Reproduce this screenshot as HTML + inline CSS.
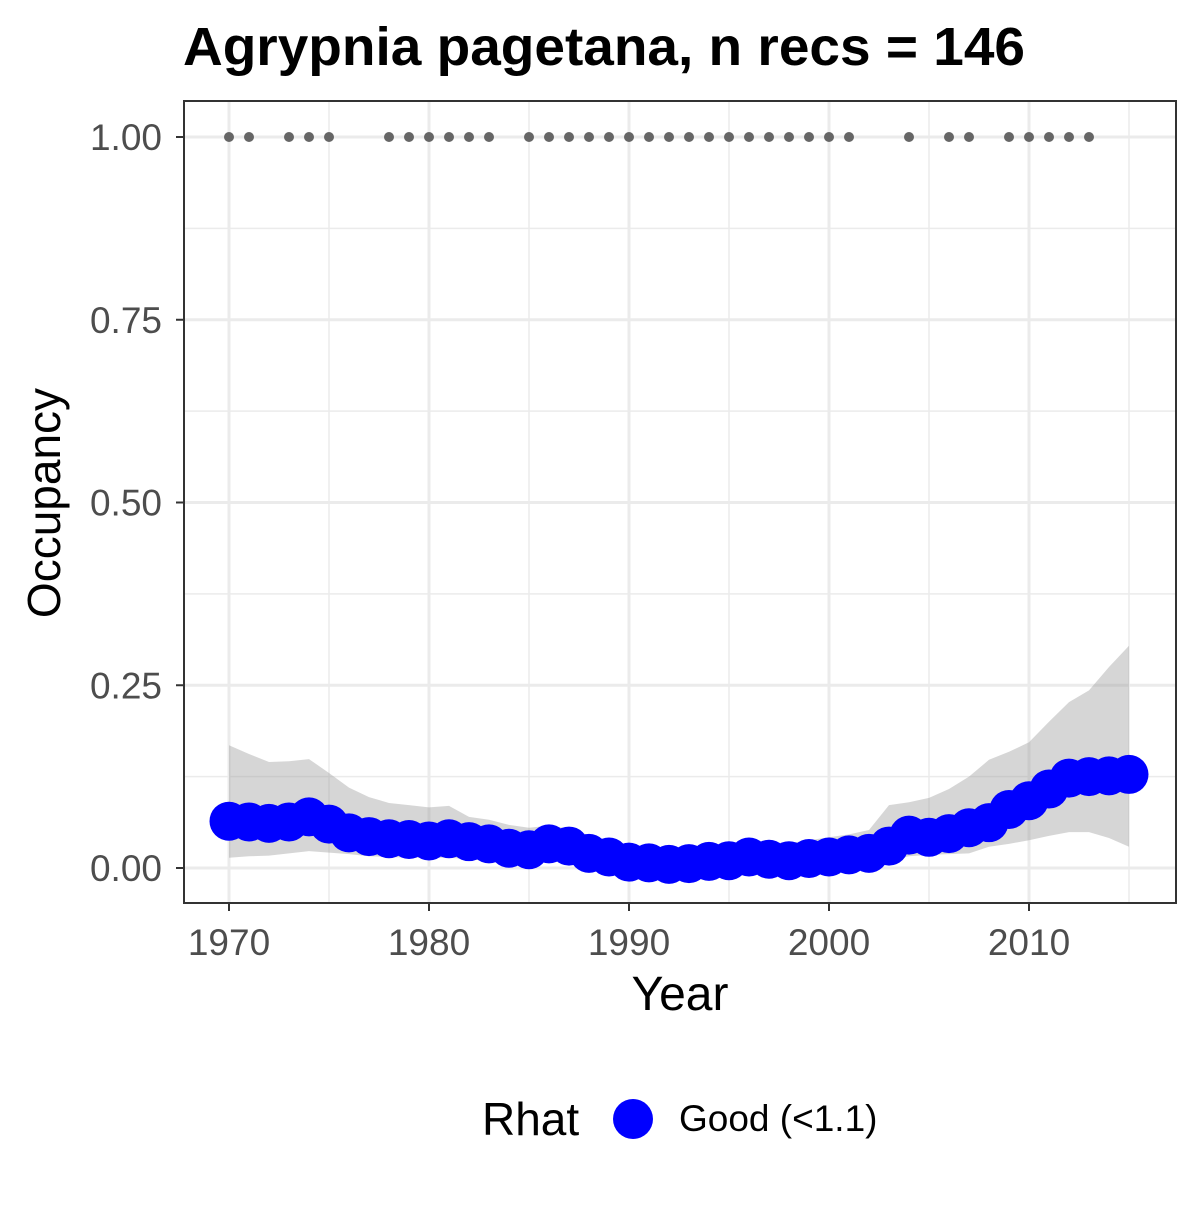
<!DOCTYPE html>
<html><head><meta charset="utf-8"><style>
body{margin:0;background:#fff;}
svg text{font-family:"Liberation Sans",Arial,sans-serif;}
</style></head><body>
<svg id="chart" width="1200" height="1200" xmlns="http://www.w3.org/2000/svg">
<rect width="1200" height="1200" fill="#fff"/>
<text x="183" y="65" font-size="54" font-weight="bold" fill="#000" textLength="842" lengthAdjust="spacingAndGlyphs">Agrypnia pagetana, n recs = 146</text>
<g id="grid"></g>
<g id="band"></g>
<g id="recs"></g>
<g id="means"></g>
<rect x="184" y="101" width="992" height="802" fill="none" stroke="#333" stroke-width="2"/>
<g id="axes"></g>
<text x="680" y="1010" font-size="48" text-anchor="middle" fill="#000">Year</text>
<text transform="translate(60,503) rotate(-90)" font-size="46" text-anchor="middle" fill="#000">Occupancy</text>
<g>
<text x="482" y="1135" font-size="46" fill="#000">Rhat</text>
<circle cx="633" cy="1119" r="20" fill="#0000ff"/>
<text x="679" y="1131" font-size="37" fill="#000">Good (&lt;1.1)</text>
</g>
</svg>
<script>
const years=[1970,1971,1972,1973,1974,1975,1976,1977,1978,1979,1980,1981,1982,1983,1984,1985,1986,1987,1988,1989,1990,1991,1992,1993,1994,1995,1996,1997,1998,1999,2000,2001,2002,2003,2004,2005,2006,2007,2008,2009,2010,2011,2012,2013,2014,2015];
const meanOcc=[.064,.063,.061,.063,.070,.060,.048,.043,.040,.039,.037,.040,.036,.033,.027,.025,.033,.030,.020,.015,.008,.007,.005,.006,.009,.010,.015,.012,.010,.013,.015,.018,.020,.030,.045,.042,.047,.055,.062,.080,.092,.108,.123,.125,.126,.128];
const upperCI=[.168,.156,.145,.146,.149,.130,.110,.097,.089,.086,.083,.085,.070,.066,.059,.055,.058,.054,.045,.038,.030,.027,.025,.026,.030,.032,.037,.035,.034,.038,.042,.046,.052,.086,.090,.096,.108,.125,.148,.159,.172,.200,.227,.243,.275,.304];
const lowerCI=[.014,.016,.017,.020,.023,.021,.019,.016,.015,.014,.014,.014,.012,.010,.008,.007,.009,.008,.005,.003,.001,.001,.001,.001,.002,.002,.003,.003,.003,.004,.005,.006,.007,.010,.016,.018,.019,.020,.029,.033,.038,.044,.049,.049,.041,.029];
const recYears=[1970,1971,1973,1974,1975,1978,1979,1980,1981,1982,1983,1985,1986,1987,1988,1989,1990,1991,1992,1993,1994,1995,1996,1997,1998,1999,2000,2001,2004,2006,2007,2009,2010,2011,2012,2013];
const xTicks=[1970,1980,1990,2000,2010];
const yTicks=[0,0.25,0.5,0.75,1];
const yTickLabels=["0.00","0.25","0.50","0.75","1.00"];
const NS="http://www.w3.org/2000/svg";
const X=v=>229+(v-1970)*20;
const Y=v=>868-v*731;
function mk(tag,parent){const e=document.createElementNS(NS,tag);document.getElementById(parent).appendChild(e);return e;}
for(let i=0;i<yTicks.length;i++){
 const l=mk('line','grid');l.setAttribute('x1',184);l.setAttribute('x2',1176);l.setAttribute('y1',Y(yTicks[i]));l.setAttribute('y2',Y(yTicks[i]));l.setAttribute('stroke','#ebebeb');l.setAttribute('stroke-width',3);
 
 
 if(i<yTicks.length-1){const m=(yTicks[i]+yTicks[i+1])/2;const g=mk('line','grid');g.setAttribute('x1',184);g.setAttribute('x2',1176);g.setAttribute('y1',Y(m));g.setAttribute('y2',Y(m));g.setAttribute('stroke','#ebebeb');g.setAttribute('stroke-width',1.5);
 
 }
 const t=mk('line','axes');t.setAttribute('x1',176);t.setAttribute('x2',184);t.setAttribute('y1',Y(yTicks[i]));t.setAttribute('y2',Y(yTicks[i]));t.setAttribute('stroke','#333');t.setAttribute('stroke-width',2);
 
 
 const tx=mk('text','axes');tx.setAttribute('x',162);tx.setAttribute('y',Y(yTicks[i])+13);tx.setAttribute('text-anchor','end');tx.setAttribute('font-size',37);tx.setAttribute('fill','#4d4d4d');tx.textContent=yTickLabels[i];
 
 
}
for(let i=0;i<xTicks.length;i++){
 const l=mk('line','grid');l.setAttribute('y1',101);l.setAttribute('y2',903);l.setAttribute('x1',X(xTicks[i]));l.setAttribute('x2',X(xTicks[i]));l.setAttribute('stroke','#ebebeb');l.setAttribute('stroke-width',3);
 
 
 const m=xTicks[i]+5;const g=mk('line','grid');g.setAttribute('y1',101);g.setAttribute('y2',903);g.setAttribute('x1',X(m));g.setAttribute('x2',X(m));g.setAttribute('stroke','#ebebeb');g.setAttribute('stroke-width',1.5);
 
 
 const t=mk('line','axes');t.setAttribute('y1',903);t.setAttribute('y2',911);t.setAttribute('x1',X(xTicks[i]));t.setAttribute('x2',X(xTicks[i]));t.setAttribute('stroke','#333');t.setAttribute('stroke-width',2);
 
 
 const tx=mk('text','axes');tx.setAttribute('x',X(xTicks[i]));tx.setAttribute('y',955);tx.setAttribute('text-anchor','middle');tx.setAttribute('font-size',37);tx.setAttribute('fill','#4d4d4d');tx.textContent=xTicks[i];
 
 
}
let d='';
years.forEach((y,i)=>{d+=(i?'L':'M')+X(y)+','+Y(upperCI[i]);});
for(let i=years.length-1;i>=0;i--)d+='L'+X(years[i])+','+Y(lowerCI[i]);
const b=mk('path','band');b.setAttribute('d',d+'Z');b.setAttribute('fill','#999');b.setAttribute('fill-opacity',0.4);


recYears.forEach(y=>{const c=mk('circle','recs');c.setAttribute('cx',X(y));c.setAttribute('cy',Y(1));c.setAttribute('r',5);c.setAttribute('fill','#666');
 
 });
years.forEach((y,i)=>{const c=mk('circle','means');c.setAttribute('cx',X(y));c.setAttribute('cy',Y(meanOcc[i]));c.setAttribute('r',19.5);c.setAttribute('fill','#0000ff');
 
 });
</script>
</body></html>
